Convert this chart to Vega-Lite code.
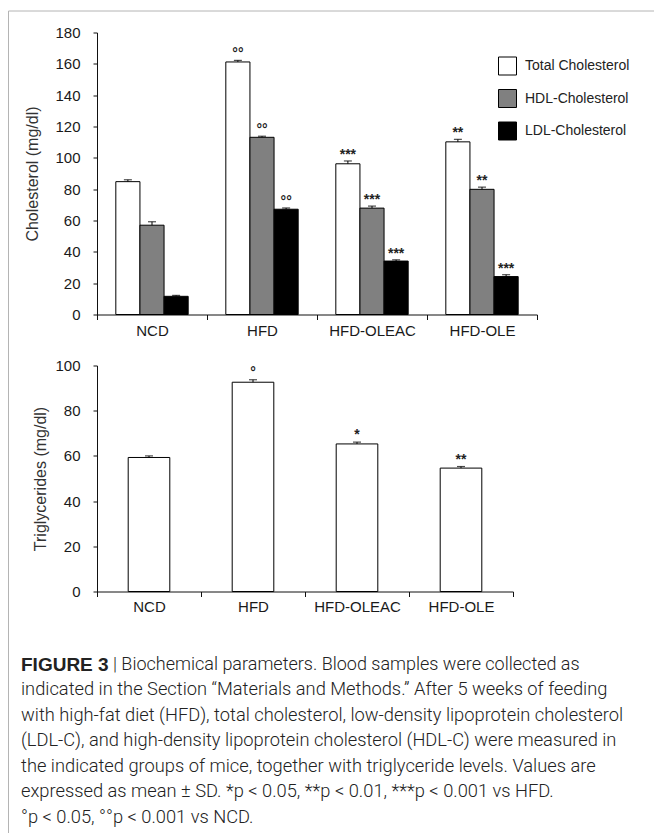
{
  "$schema": "https://vega.github.io/schema/vega-lite/v6.json",
  "background": "white",
  "padding": {"left": 8, "top": 10.5, "right": 0, "bottom": 0},
  "autosize": {"type": "pad"},
  "bounds": "flush",
  "spacing": 0,
  "config": {
    "view": {"stroke": null},
    "font": "Liberation Sans",
    "axis": {
      "domainColor": "#111",
      "tickColor": "#111",
      "labelColor": "#1a1a1a",
      "titleColor": "#333",
      "labelFont": "Liberation Sans",
      "titleFont": "Liberation Sans",
      "labelFontSize": 15,
      "titleFontSize": 16,
      "titleFontWeight": "normal",
      "labelOverlap": false,
      "grid": false
    }
  },
  "datasets": {
    "chol": [
      {"group": "NCD", "type": "Total Cholesterol", "value": 84.8, "hi": 86.0, "sig": ""},
      {"group": "NCD", "type": "HDL-Cholesterol", "value": 57.0, "hi": 59.2, "sig": ""},
      {"group": "NCD", "type": "LDL-Cholesterol", "value": 11.6, "hi": 12.2, "sig": ""},
      {"group": "HFD", "type": "Total Cholesterol", "value": 161.2, "hi": 162.2, "sig": "°°"},
      {"group": "HFD", "type": "HDL-Cholesterol", "value": 113.1, "hi": 113.8, "sig": "°°"},
      {"group": "HFD", "type": "LDL-Cholesterol", "value": 67.2, "hi": 68.0, "sig": "°°"},
      {"group": "HFD-OLEAC", "type": "Total Cholesterol", "value": 96.2, "hi": 98.0, "sig": "***"},
      {"group": "HFD-OLEAC", "type": "HDL-Cholesterol", "value": 67.9, "hi": 69.2, "sig": "***"},
      {"group": "HFD-OLEAC", "type": "LDL-Cholesterol", "value": 34.1, "hi": 34.9, "sig": "***"},
      {"group": "HFD-OLE", "type": "Total Cholesterol", "value": 110.2, "hi": 111.8, "sig": "**"},
      {"group": "HFD-OLE", "type": "HDL-Cholesterol", "value": 79.9, "hi": 81.3, "sig": "**"},
      {"group": "HFD-OLE", "type": "LDL-Cholesterol", "value": 24.2, "hi": 25.4, "sig": "***"}
    ],
    "tg": [
      {"group": "NCD", "value": 59.3, "hi": 60.0, "sig": ""},
      {"group": "HFD", "value": 92.6, "hi": 93.7, "sig": "°"},
      {"group": "HFD-OLEAC", "value": 65.3, "hi": 66.1, "sig": "*"},
      {"group": "HFD-OLE", "value": 54.6, "hi": 55.3, "sig": "**"}
    ],
    "caption": [
      {"line": 1, "part": "head", "text": "FIGURE 3"},
      {"line": 1, "part": "first", "text": "| Biochemical parameters. Blood samples were collected as"},
      {"line": 2, "part": "body", "text": "indicated in the Section “Materials and Methods.” After 5 weeks of feeding"},
      {"line": 3, "part": "body", "text": "with high-fat diet (HFD), total cholesterol, low-density lipoprotein cholesterol"},
      {"line": 4, "part": "body", "text": "(LDL-C), and high-density lipoprotein cholesterol (HDL-C) were measured in"},
      {"line": 5, "part": "body", "text": "the indicated groups of mice, together with triglyceride levels. Values are"},
      {"line": 6, "part": "body", "text": "expressed as mean ± SD. *p < 0.05, **p < 0.01, ***p < 0.001 vs HFD."},
      {"line": 7, "part": "body", "text": "°p < 0.05, °°p < 0.001 vs NCD."}
    ],
    "frame": [{"f": 0.5}]
  },
  "vconcat": [
    {
      "width": 557,
      "height": 22,
      "data": {"name": "frame"},
      "mark": {"type": "point", "opacity": 0},
      "encoding": {
        "x": {"field": "f", "type": "quantitative", "scale": {"domain": [0, 1], "range": [-89, 557]},
              "axis": {"orient": "top", "domainColor": "#b4b4b4", "ticks": false, "labels": false, "title": null}},
        "y": {"field": "f", "type": "quantitative", "scale": {"domain": [0, 1], "range": [0, 822]},
              "axis": {"orient": "left", "offset": 89, "domainColor": "#b4b4b4", "ticks": false, "labels": false, "title": null}}
      }
    },
    {
      "width": 440,
      "height": 282,
      "data": {"name": "chol"},
      "encoding": {
        "x": {"field": "group", "type": "nominal", "sort": ["NCD", "HFD", "HFD-OLEAC", "HFD-OLE"],
              "scale": {"paddingInner": 0, "paddingOuter": 0},
              "axis": {"title": null, "labelAngle": 0, "tickBand": "extent", "tickSize": 5, "labelPadding": 4}},
        "xOffset": {"field": "type", "type": "nominal", "sort": ["Total Cholesterol", "HDL-Cholesterol", "LDL-Cholesterol"],
                    "scale": {"paddingInner": 0, "paddingOuter": 0.78}}
      },
      "layer": [
        {
          "mark": {"type": "bar", "stroke": "#000", "strokeWidth": 1},
          "encoding": {
            "y": {"field": "value", "type": "quantitative", "scale": {"domain": [0, 180], "nice": false},
                  "axis": {"values": [0, 20, 40, 60, 80, 100, 120, 140, 160, 180], "tickCount": 10, "labelOverlap": false, "title": "Cholesterol (mg/dl)",
                           "tickSize": 4, "labelPadding": 13, "titlePadding": 14}},
            "fill": {"field": "type", "type": "nominal",
                     "scale": {"domain": ["Total Cholesterol", "HDL-Cholesterol", "LDL-Cholesterol"], "range": ["#ffffff", "#808080", "#000000"]},
                     "legend": {"title": null, "orient": "none", "legendX": 401, "legendY": 46, "padding": 0,
                                "symbolType": "square", "symbolSize": 324, "symbolStrokeColor": "#000", "symbolStrokeWidth": 1,
                                "symbolOpacity": 1, "labelFontSize": 14, "labelFont": "Liberation Sans", "labelColor": "#222",
                                "labelOffset": 8, "rowPadding": 9.5}}
          }
        },
        {
          "mark": {"type": "rule", "color": "#000", "strokeWidth": 1},
          "encoding": {
            "y": {"field": "value", "type": "quantitative", "scale": {"domain": [0, 180], "nice": false},
                  "axis": {"values": [0, 20, 40, 60, 80, 100, 120, 140, 160, 180], "tickCount": 10, "labelOverlap": false, "title": "Cholesterol (mg/dl)",
                           "tickSize": 4, "labelPadding": 13, "titlePadding": 14}},
            "y2": {"field": "hi"}}
        },
        {
          "mark": {"type": "tick", "size": 8, "thickness": 1.2, "color": "#000"},
          "encoding": {
            "y": {"field": "hi", "type": "quantitative", "scale": {"domain": [0, 180], "nice": false},
                  "axis": {"values": [0, 20, 40, 60, 80, 100, 120, 140, 160, 180], "tickCount": 10, "labelOverlap": false, "title": "Cholesterol (mg/dl)",
                           "tickSize": 4, "labelPadding": 13, "titlePadding": 14}}}
        },
        {
          "mark": {"type": "text", "baseline": "alphabetic", "dy": -2, "fontSize": 14, "fontWeight": "bold", "color": "#222"},
          "encoding": {
            "y": {"field": "hi", "type": "quantitative", "scale": {"domain": [0, 180], "nice": false},
                  "axis": {"values": [0, 20, 40, 60, 80, 100, 120, 140, 160, 180], "tickCount": 10, "labelOverlap": false, "title": "Cholesterol (mg/dl)",
                           "tickSize": 4, "labelPadding": 13, "titlePadding": 14}},
            "text": {"field": "sig"}}
        }
      ]
    },
    {
      "width": 416,
      "height": 277,
      "data": {"name": "tg"},
      "encoding": {
        "x": {"field": "group", "type": "nominal", "sort": ["NCD", "HFD", "HFD-OLEAC", "HFD-OLE"],
              "scale": {"paddingInner": 0, "paddingOuter": 0},
              "axis": {"title": null, "labelAngle": 0, "tickBand": "extent", "tickSize": 5, "labelPadding": 3}}
      },
      "layer": [
        {
          "mark": {"type": "bar", "width": {"band": 0.4}, "fill": "#ffffff", "stroke": "#000", "strokeWidth": 1},
          "encoding": {
            "y": {"field": "value", "type": "quantitative", "scale": {"domain": [0, 100], "nice": false, "range": [277, 51]},
                  "axis": {"values": [0, 20, 40, 60, 80, 100], "labelOverlap": false, "title": "Triglycerides (mg/dl)",
                           "tickSize": 4, "labelPadding": 13, "titlePadding": 6}}
          }
        },
        {
          "mark": {"type": "rule", "color": "#000", "strokeWidth": 1},
          "encoding": {"y": {"field": "value", "type": "quantitative"}, "y2": {"field": "hi"}}
        },
        {
          "mark": {"type": "tick", "size": 8, "thickness": 1.2, "color": "#000"},
          "encoding": {"y": {"field": "hi", "type": "quantitative"}}
        },
        {
          "mark": {"type": "text", "baseline": "alphabetic", "dy": -3, "fontSize": 14, "fontWeight": "bold", "color": "#222"},
          "encoding": {"y": {"field": "hi", "type": "quantitative"}, "text": {"field": "sig"}}
        }
      ]
    },
    {
      "width": 557,
      "height": 241,
      "data": {"name": "caption"},
      "encoding": {
        "x": {"datum": 0, "type": "quantitative", "scale": {"domain": [0, 1], "range": [-76, 557]}, "axis": null},
        "y": {"field": "line", "type": "quantitative", "scale": {"domain": [1, 7], "range": [73, 226.5]}, "axis": null},
        "text": {"field": "text"}
      },
      "layer": [
        {
          "transform": [{"filter": "datum.part === 'head'"}],
          "mark": {"type": "text", "align": "left", "baseline": "middle", "font": "Liberation Sans", "fontWeight": "bold", "fontSize": 19, "color": "#222"}
        },
        {
          "transform": [{"filter": "datum.part === 'first'"}],
          "mark": {"type": "text", "align": "left", "baseline": "middle", "dx": 92, "font": "Roboto", "fontWeight": 300, "fontSize": 18, "color": "#222"}
        },
        {
          "transform": [{"filter": "datum.part === 'body'"}],
          "mark": {"type": "text", "align": "left", "baseline": "middle", "font": "Roboto", "fontWeight": 300, "fontSize": 18.3, "color": "#222"}
        }
      ]
    }
  ]
}
